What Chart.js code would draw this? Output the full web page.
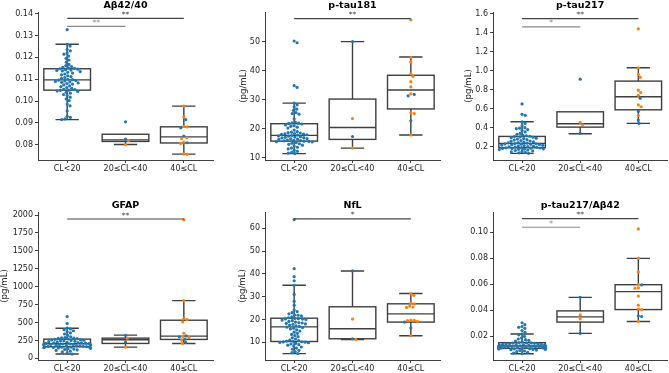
<!DOCTYPE html>
<html>
<head>
<meta charset="utf-8">
<script src="https://cdn.jsdelivr.net/npm/chart.js@4.4.0/dist/chart.umd.min.js"></script>
<style>
  body { margin: 0; background: #fff; }
  #wrap { position: relative; width: 669px; height: 373px; overflow: hidden; }
  #wrap canvas { position: absolute; }
</style>
</head>
<body>
<div id="wrap"></div>
<script>
  // categories
  const groups = ['CL<20', '20≤CL<40', '40≤CL'];

  // Aβ42/40
  const abRatioBlue = [
    [0.0915, 0.0918, 0.0925, 0.0930, 0.0955, 0.0978, 0.0986, 0.1002, 0.1010, 0.1018, 0.1025, 0.1030, 0.1036, 0.1040, 0.1044, 0.1046, 0.1049,
     0.1050, 0.1052, 0.1054, 0.1058, 0.1062, 0.1066, 0.1070, 0.1074, 0.1078, 0.1080, 0.1083, 0.1086, 0.1088, 0.1090, 0.1092, 0.1094, 0.1096,
     0.1098, 0.1100, 0.1104, 0.1108, 0.1112, 0.1116, 0.1120, 0.1124, 0.1128, 0.1132, 0.1135, 0.1138, 0.1140, 0.1142, 0.1144, 0.1146, 0.1148,
     0.1150, 0.1152, 0.1155, 0.1158, 0.1162, 0.1168, 0.1178, 0.1188, 0.1196, 0.1206, 0.1215, 0.1220, 0.1230, 0.1236, 0.1252, 0.1260, 0.1327],
    [0.0905, 0.0826],
    [0.0809, 0.0840, 0.0878, 0.0915]
  ];
  const abRatioOrange = [[], [0.0819, 0.0801],
    [0.0756, 0.0758, 0.0806, 0.0812, 0.0828, 0.0832, 0.0882, 0.0884, 0.0928, 0.0977]];
  // [whisker low, q1, median, q3, whisker high]
  const abRatioBox = [[0.0915, 0.1050, 0.1097, 0.1148, 0.1260], [0.0801, 0.0815, 0.0822, 0.0848, 0.0848], [0.0757, 0.0808, 0.0836, 0.0882, 0.0977]];
  const abRatioSig = [[0, 2, 0.1379, '**'], [0, 1, 0.1342, '**']];
  const abRatioTicks = [0.08, 0.09, 0.10, 0.11, 0.12, 0.13, 0.14];

  // p-tau181
  const pt181Blue = [
    [11.4, 11.6, 11.8, 12.2, 12.6, 13.0, 13.3, 13.6, 14.0, 14.3, 14.6, 14.8, 15.0, 15.2, 15.4, 15.5, 15.6,
     15.7, 15.8, 15.9, 16.0, 16.1, 16.3, 16.4, 16.5, 16.6, 16.8, 16.9, 17.0, 17.1, 17.2, 17.4, 17.5, 17.6,
     17.8, 17.9, 18.0, 18.1, 18.2, 18.3, 18.5, 18.6, 18.8, 19.0, 19.5, 20.2, 20.5, 20.8, 21.0, 21.3, 21.6,
     21.8, 21.9, 22.0, 22.3, 23.4, 25.0, 25.2, 25.5, 26.3, 26.7, 27.5, 28.2, 28.8, 34.2, 34.8, 49.6, 50.2],
    [50.0, 17.3],
    [22.7, 31.3, 31.8]
  ];
  const pt181Orange = [[], [23.5, 13.3],
    [17.8, 25.2, 25.5, 32.0, 34.4, 36.2, 38.0, 38.9, 42.9, 44.6, 57.5]];
  const pt181Box = [[11.4, 15.7, 17.7, 21.7, 28.8], [13.3, 16.3, 20.4, 30.2, 50.0], [17.8, 26.8, 33.3, 38.4, 44.7]];
  const pt181Sig = [[0, 2, 57.9, '**']];
  const pt181Ticks = [10, 20, 30, 40, 50];

  // p-tau217
  const pt217Blue = [
    [0.130, 0.135, 0.140, 0.145, 0.150, 0.155, 0.160, 0.165, 0.170, 0.172, 0.175, 0.178, 0.180, 0.182, 0.184, 0.186, 0.188,
     0.190, 0.193, 0.196, 0.199, 0.202, 0.205, 0.208, 0.211, 0.214, 0.217, 0.220, 0.222, 0.225, 0.227, 0.229, 0.231, 0.233,
     0.237, 0.240, 0.244, 0.248, 0.252, 0.256, 0.260, 0.265, 0.270, 0.275, 0.280, 0.285, 0.290, 0.295, 0.300, 0.303, 0.306,
     0.310, 0.315, 0.320, 0.330, 0.340, 0.355, 0.370, 0.380, 0.390, 0.395, 0.400, 0.420, 0.445, 0.462, 0.530, 0.540, 0.650],
    [0.91, 0.34],
    [0.445, 0.48, 0.57, 0.71]
  ];
  const pt217Orange = [[], [0.455, 0.43],
    [0.53, 0.62, 0.64, 0.74, 0.77, 0.795, 0.93, 0.96, 1.03, 1.44]];
  const pt217Box = [[0.130, 0.189, 0.235, 0.308, 0.462], [0.336, 0.406, 0.441, 0.567, 0.567], [0.445, 0.588, 0.725, 0.890, 1.030]];
  const pt217Sig = [[0, 2, 1.547, '**'], [0, 1, 1.46, '*']];
  const pt217Ticks = [0.2, 0.4, 0.6, 0.8, 1.0, 1.2, 1.4, 1.6];

  // GFAP
  const gfapBlue = [
    [60, 75, 90, 100, 110, 118, 125, 130, 135, 140, 145, 148, 150, 153, 155, 158, 160,
     163, 166, 169, 172, 175, 178, 181, 184, 187, 190, 192, 194, 196, 198, 200, 203,
     206, 209, 212, 215, 218, 221, 225, 229, 233, 237, 241, 245, 249, 253, 257, 261, 266,
     270, 274, 278, 282, 286, 290, 300, 320, 340, 355, 370, 385, 400, 410, 421, 486, 583],
    [228, 322],
    [222, 268, 300, 315]
  ];
  const gfapOrange = [[], [157, 282],
    [208, 255, 290, 305, 350, 510, 540, 555, 805, 1935]];
  const gfapBox = [[60, 162, 204, 268, 421], [157, 208, 259, 282, 324], [208, 264, 310, 532, 805]];
  const gfapSig = [[0, 2, 1944, '**']];
  const gfapTicks = [0, 250, 500, 750, 1000, 1250, 1500, 1750, 2000];

  // NfL
  const nflBlue = [
    [5.1, 5.5, 6.0, 6.5, 7.0, 7.5, 8.0, 8.4, 8.8, 9.0, 9.3, 9.6, 9.9, 10.0, 10.1, 10.2, 10.3,
     10.5, 10.6, 10.8, 11.0, 11.5, 12.0, 12.5, 13.0, 13.5, 14.0, 14.5, 15.0, 15.5, 15.9, 16.2, 16.5, 16.7,
     17.0, 17.3, 17.6, 17.9, 18.1, 18.3, 18.5, 18.7, 18.9, 19.2, 19.5, 19.8, 20.0, 20.2, 20.3, 20.4, 20.5,
     20.8, 21.2, 21.6, 21.9, 22.0, 22.5, 23.0, 23.5, 24.2, 26.3, 28.0, 31.0, 35.0, 37.0, 38.8, 42.3, 63.8],
    [41.3, 11.6],
    [16.3, 18.9]
  ];
  const nflOrange = [[], [20.2, 11.3],
    [12.9, 19.2, 19.6, 19.7, 19.8, 25.3, 25.5, 25.9, 26.9, 27.3, 30.6, 31.3]];
  const nflBox = [[5.1, 10.4, 16.8, 20.6, 35.0], [11.3, 11.6, 16.0, 25.6, 41.3], [12.9, 18.9, 22.5, 26.9, 31.4]];
  const nflSig = [[0, 2, 64.1, '*']];
  const nflTicks = [10, 20, 30, 40, 50, 60];

  // p-tau217/Aβ42
  const ptRatioBlue = [
    [0.0067, 0.0072, 0.0078, 0.0083, 0.0088, 0.0092, 0.0095, 0.0098, 0.0100, 0.0102, 0.0103, 0.0104, 0.0105, 0.0106, 0.0107, 0.0107, 0.0108,
     0.0109, 0.0110, 0.0111, 0.0112, 0.0113, 0.0114, 0.0115, 0.0116, 0.0117, 0.0118, 0.0119, 0.0120, 0.0121, 0.0122, 0.0123, 0.0124, 0.0125,
     0.0127, 0.0128, 0.0130, 0.0131, 0.0133, 0.0134, 0.0136, 0.0137, 0.0139, 0.0140, 0.0142, 0.0143, 0.0145, 0.0147, 0.0149, 0.0150, 0.0151,
     0.0153, 0.0160, 0.0165, 0.0170, 0.0175, 0.0180, 0.0188, 0.0200, 0.0212, 0.0218, 0.0232, 0.0245, 0.0262, 0.0270, 0.0276, 0.0290, 0.0305],
    [0.0500, 0.0223],
    [0.0352, 0.0358, 0.0595]
  ];
  const ptRatioOrange = [[], [0.0335, 0.0365],
    [0.0315, 0.0405, 0.0410, 0.0440, 0.0510, 0.0570, 0.0572, 0.0600, 0.0695, 0.0799, 0.1025]];
  const ptRatioBox = [[0.0067, 0.0108, 0.0126, 0.0152, 0.0218], [0.0223, 0.0310, 0.0350, 0.0396, 0.0500], [0.0315, 0.0406, 0.0544, 0.0597, 0.0799]];
  const ptRatioSig = [[0, 2, 0.1104, '**'], [0, 1, 0.1038, '*']];
  const ptRatioTicks = [0.02, 0.04, 0.06, 0.08, 0.10];

  Chart.defaults.font.family = 'DejaVu Sans';
  Chart.defaults.color = '#262626';

  const panels = [
    { left: 0, top: 0, width: 222, axisW: 38, title: 'Aβ42/40', yTitle: '', yPad: 0,
      blue: abRatioBlue, orange: abRatioOrange, box: abRatioBox, sig: abRatioSig, ticks: abRatioTicks, dec: 2, yMin: 0.0730, yMax: 0.1408 },
    { left: 225, top: 0, width: 222, axisW: 40, title: 'p-tau181', yTitle: '(pg/mL)', yPad: 13.3,
      blue: pt181Blue, orange: pt181Orange, box: pt181Box, sig: pt181Sig, ticks: pt181Ticks, dec: 0, yMin: 9.2, yMax: 60.2 },
    { left: 453, top: 0, width: 216, axisW: 40, title: 'p-tau217', yTitle: '(pg/mL)', yPad: 10.8,
      blue: pt217Blue, orange: pt217Orange, box: pt217Box, sig: pt217Sig, ticks: pt217Ticks, dec: 1, yMin: 0.06, yMax: 1.617 },
    { left: 0, top: 200, width: 222, axisW: 38, title: 'GFAP', yTitle: '(pg/mL)', yPad: 0,
      blue: gfapBlue, orange: gfapOrange, box: gfapBox, sig: gfapSig, ticks: gfapTicks, dec: 0, yMin: -23, yMax: 2042 },
    { left: 225, top: 200, width: 222, axisW: 40, title: 'NfL', yTitle: '(pg/mL)', yPad: 13.1,
      blue: nflBlue, orange: nflOrange, box: nflBox, sig: nflSig, ticks: nflTicks, dec: 0, yMin: 2.3, yMax: 67.1 },
    { left: 453, top: 200, width: 216, axisW: 40, title: 'p-tau217/Aβ42', yTitle: '', yPad: 0,
      blue: ptRatioBlue, orange: ptRatioOrange, box: ptRatioBox, sig: ptRatioSig, ticks: ptRatioTicks, dec: 2, yMin: 0.0019, yMax: 0.1155 }
  ];

  const PANEL_H = 173;
  const PLOT_W = 175;
  const lineGrey = '#3f3f3f';

  // boxes under the points, significance bars and title on top
  function boxPlugin(p) {
    return {
      id: 'boxes',
      beforeDatasetsDraw(chart) {
        const { ctx, scales: { x, y } } = chart;
        const half = x.getPixelForValue(0.4) - x.getPixelForValue(0);
        ctx.save();
        ctx.strokeStyle = lineGrey;
        ctx.lineWidth = 1.4;
        p.box.forEach((s, i) => {
          const cx = x.getPixelForValue(i);
          const [lo, q1, med, q3, hi] = s.map(v => y.getPixelForValue(v));
          ctx.fillStyle = '#fff';
          ctx.fillRect(cx - half, q3, 2 * half, q1 - q3);
          ctx.strokeRect(cx - half, q3, 2 * half, q1 - q3);
          ctx.beginPath();
          ctx.moveTo(cx - half, med); ctx.lineTo(cx + half, med);
          ctx.moveTo(cx, q1); ctx.lineTo(cx, lo);
          ctx.moveTo(cx, q3); ctx.lineTo(cx, hi);
          ctx.moveTo(cx - half / 2, lo); ctx.lineTo(cx + half / 2, lo);
          if (hi !== q3) { ctx.moveTo(cx - half / 2, hi); ctx.lineTo(cx + half / 2, hi); }
          ctx.stroke();
        });
        ctx.restore();
      },
      afterDatasetsDraw(chart) {
        const { ctx, chartArea, scales: { x, y } } = chart;
        ctx.save();
        ctx.lineWidth = 1.1;
        ctx.font = '7.5px "DejaVu Sans"';
        ctx.textAlign = 'center';
        ctx.textBaseline = 'middle';
        p.sig.forEach(([a, b, v, label]) => {
          const col = (b - a) > 1 ? '#444' : '#8a8a8a';
          const py = y.getPixelForValue(v);
          ctx.strokeStyle = col;
          ctx.fillStyle = col;
          ctx.beginPath();
          ctx.moveTo(x.getPixelForValue(a), py);
          ctx.lineTo(x.getPixelForValue(b), py);
          ctx.stroke();
          ctx.fillText(label, x.getPixelForValue((a + b) / 2), py - 3.4);
        });
        // title centred over the plot area
        ctx.font = 'bold 9.5px "DejaVu Sans"';
        ctx.fillStyle = '#000';
        ctx.textBaseline = 'alphabetic';
        ctx.fillText(p.title, (chartArea.left + chartArea.right) / 2, 8);
        ctx.restore();
      }
    };
  }

  // beeswarm offsets in pixels, closest-to-centre first fit
  function swarm(ys, d) {
    const order = ys.map((_, i) => i).sort((a, b) => ys[a] - ys[b]);
    const placed = [];
    const offs = new Array(ys.length);
    order.forEach(i => {
      const yy = ys[i];
      const near = placed.filter(q => Math.abs(q.y - yy) < d);
      const cands = [0];
      near.forEach(q => {
        const dx = Math.sqrt(d * d - (q.y - yy) * (q.y - yy));
        cands.push(q.x + dx, q.x - dx);
      });
      cands.sort((a, b) => Math.abs(a) - Math.abs(b));
      const xx = cands.find(c => near.every(q => (q.x - c) ** 2 + (q.y - yy) ** 2 >= d * d - 1e-6));
      placed.push({ x: xx, y: yy });
      offs[i] = xx;
    });
    return offs;
  }

  function placeSwarm(chart, p) {
    const { x, y } = chart.scales;
    const unit = x.getPixelForValue(1) - x.getPixelForValue(0);
    const blueData = [], orangeData = [];
    groups.forEach((g, i) => {
      const pts = p.blue[i].map(v => ({ v, c: 'b' })).concat(p.orange[i].map(v => ({ v, c: 'o' })));
      const offs = swarm(pts.map(q => y.getPixelForValue(q.v)), 3.4);
      pts.forEach((q, k) => {
        const dx = Math.max(-0.4, Math.min(0.4, offs[k] / unit));
        (q.c === 'b' ? blueData : orangeData).push({ x: i + dx, y: q.v });
      });
    });
    chart.data.datasets[0].data = blueData;
    chart.data.datasets[1].data = orangeData;
    chart.update('none');
  }

  const wrap = document.getElementById('wrap');

  panels.forEach(p => {
    const cv = document.createElement('canvas');
    cv.width = p.width;
    cv.height = PANEL_H;
    cv.style.left = p.left + 'px';
    cv.style.top = p.top + 'px';
    wrap.appendChild(cv);

    const chart = new Chart(cv.getContext('2d'), {
      type: 'scatter',
      data: {
        datasets: [
          { data: [], backgroundColor: '#1f77b4', borderWidth: 0, pointRadius: 1.6, pointHoverRadius: 1.6 },
          { data: [], backgroundColor: '#ff7f0e', borderWidth: 0, pointRadius: 1.6, pointHoverRadius: 1.6 }
        ]
      },
      options: {
        responsive: false,
        animation: false,
        events: [],
        layout: { padding: { top: 12, left: 0, bottom: 0, right: p.width - p.axisW - PLOT_W } },
        plugins: {
          legend: { display: false },
          tooltip: { enabled: false },
          title: { display: false }
        },
        scales: {
          x: {
            type: 'linear',
            min: -0.5,
            max: 2.5,
            afterBuildTicks: s => { s.ticks = groups.map((g, i) => ({ value: i })); },
            afterFit: s => { s.height = 13; },
            ticks: { callback: v => groups[v], font: { size: 8 }, padding: 1, maxRotation: 0, autoSkip: false },
            grid: { display: true, drawOnChartArea: false, tickLength: 3, color: lineGrey },
            border: { color: lineGrey, width: 1 }
          },
          y: {
            min: p.yMin,
            max: p.yMax,
            afterBuildTicks: s => { s.ticks = p.ticks.map(v => ({ value: v })); },
            afterFit: s => { s.width = p.axisW; },
            ticks: { callback: v => v.toFixed(p.dec), font: { size: 8 }, padding: 2 },
            grid: { display: true, drawOnChartArea: false, tickLength: 3, color: lineGrey },
            border: { color: lineGrey, width: 1 },
            title: { display: !!p.yTitle, text: p.yTitle, font: { size: 8.6, lineHeight: 1.2 }, padding: { top: p.yPad, bottom: 0 } }
          }
        }
      },
      plugins: [boxPlugin(p)]
    });
    placeSwarm(chart, p);
  });
</script>
</body>
</html>
